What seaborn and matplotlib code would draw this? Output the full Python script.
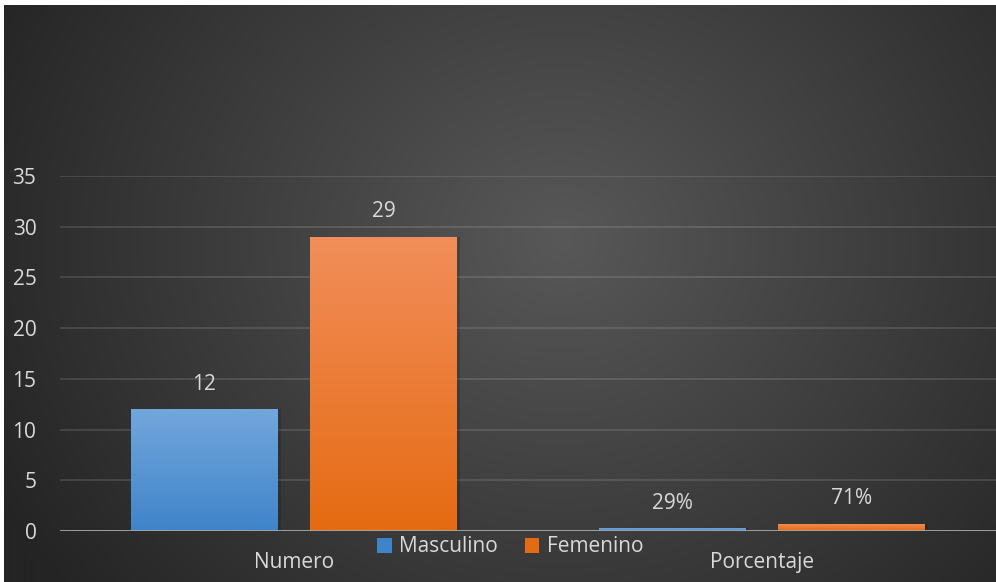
import numpy as np
import pandas as pd
import matplotlib
matplotlib.use("Agg")
import matplotlib.pyplot as plt
import seaborn as sns
from matplotlib.colors import LinearSegmentedColormap, to_rgb
from matplotlib.patches import Rectangle

# Chart data
categories = ["Numero", "Porcentaje"]
series = ["Masculino", "Femenino"]
masculino = [12, 0.29]
femenino = [29, 0.71]
label_formats = ["{:.0f}", "{:.0%}"]
y_ticks = [0, 5, 10, 15, 20, 25, 30, 35]

# Bar colours: (top, bottom) of each vertical gradient
series_colors = {
    "Masculino": ("#72a7dc", "#3f84c9"),
    "Femenino": ("#f28e5a", "#e56b12"),
}
text_color = "#d9d9d9"
font_size = 15

sns.set_theme(style="dark")
plt.rcParams["font.family"] = ["Open Sans", "DejaVu Sans"]

df = pd.DataFrame({
    "categoria": categories * 2,
    "sexo": [series[0]] * len(categories) + [series[1]] * len(categories),
    "valor": masculino + femenino,
})

W, H = 996, 582
fig = plt.figure(figsize=(W / 100, H / 100), dpi=100)

# Dark radial background
bg = fig.add_axes([0, 0, 1, 1], zorder=-10)
yy, xx = np.mgrid[0:H, 0:W]
r = np.sqrt(((xx - 560) / 640.0) ** 2 + ((yy - 240) / 560.0) ** 2)
r = np.clip(r, 0, 1)
c_in = np.array(to_rgb("#585858"))
c_out = np.array(to_rgb("#242424"))
img = c_in[None, None, :] * (1 - r[..., None]) + c_out[None, None, :] * r[..., None]
bg.imshow(img, extent=[0, 1, 0, 1], aspect="auto", origin="upper")
bg.set_axis_off()
# thin white margin at top and left
fig.patches.append(Rectangle((0, 1 - 5 / H), 1, 5 / H, transform=fig.transFigure,
                             facecolor="white", edgecolor="none", zorder=5))
fig.patches.append(Rectangle((0, 0), 4 / W, 1, transform=fig.transFigure,
                             facecolor="white", edgecolor="none", zorder=5))

ax = fig.add_axes([60 / W, 51 / H, 1 - 60 / W, 355 / H])
ax.patch.set_alpha(0)

sns.barplot(data=df, x="categoria", y="valor", hue="sexo", hue_order=series,
            palette={k: v[1] for k, v in series_colors.items()},
            width=0.765, gap=0.18, saturation=1, ax=ax, legend=False, errorbar=None)

ax.set_xlim(-0.5, 1.5)
ax.set_ylim(0, 35)
ax.set_yticks(y_ticks)
ax.set_xlabel("")
ax.set_ylabel("")
for s in ax.spines.values():
    s.set_visible(False)
ax.grid(axis="y", color="white", alpha=0.13, linewidth=1.3)
ax.grid(axis="x", visible=False)
ax.set_axisbelow(True)
ax.axhline(0, color="#a6a6a6", linewidth=2, zorder=4)
ax.tick_params(axis="both", length=0, colors=text_color, labelsize=font_size)
ax.tick_params(axis="y", pad=17)
ax.tick_params(axis="x", pad=15)

# Gradient fill for every bar, plus value labels
for container, name in zip(ax.containers, series):
    top, bottom = series_colors[name]
    cmap = LinearSegmentedColormap.from_list(name, [bottom, top])
    grad = np.linspace(0, 1, 256).reshape(-1, 1)
    for i, bar in enumerate(container):
        x, y0 = bar.get_x(), bar.get_y()
        w, h = bar.get_width(), bar.get_height()
        # soft shadow on the right
        ax.add_patch(Rectangle((x + 0.006, y0), w, h, facecolor="black", alpha=0.15,
                               edgecolor="none", zorder=1.5))
        bar.set_facecolor("none")
        bar.set_edgecolor("none")
        bar.set_zorder(3)
        im = ax.imshow(grad, extent=[x, x + w, y0, y0 + h], origin="lower",
                       aspect="auto", cmap=cmap, zorder=2)
        im.set_clip_path(bar)
        ax.annotate(label_formats[i].format(h), (x + w / 2, h),
                    xytext=(0, 18), textcoords="offset points",
                    ha="center", va="center", color=text_color, fontsize=font_size)
ax.set_xlim(-0.5, 1.5)
ax.set_ylim(0, 35)

handles = [Rectangle((0, 0), 1, 1, facecolor=series_colors[s][1], edgecolor="none")
           for s in series]
fig.legend(handles, series, loc="center", bbox_to_anchor=(510 / W, 1 - 547 / H),
           ncol=2, frameon=False, handlelength=0.7, handleheight=0.7,
           handletextpad=0.35, columnspacing=1.3, fontsize=font_size, labelcolor=text_color)

fig.savefig("out.png", dpi=100)
